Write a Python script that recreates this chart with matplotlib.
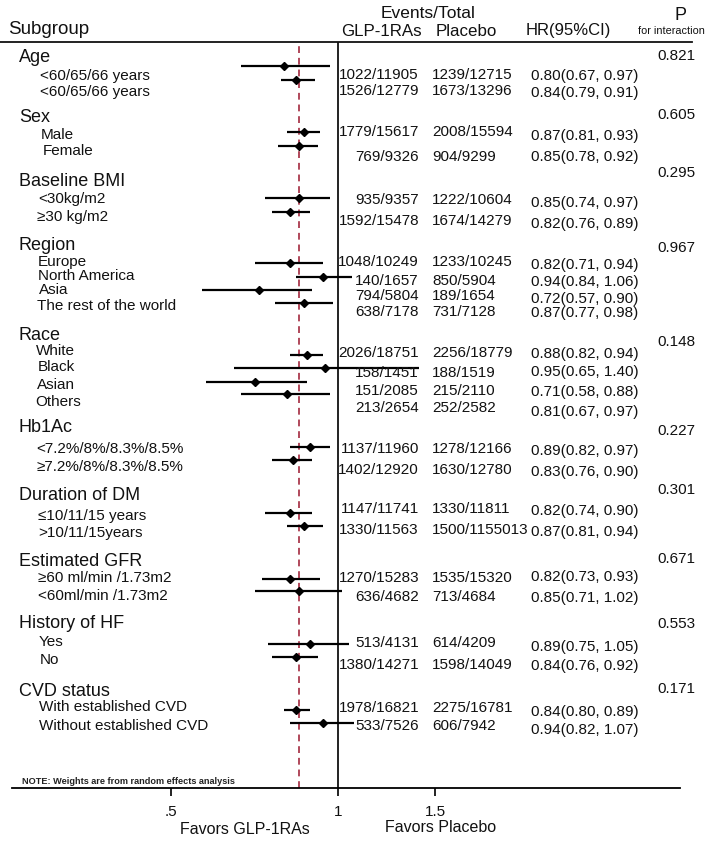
import numpy as np
import matplotlib
matplotlib.use("Agg")
import matplotlib.pyplot as plt
from matplotlib.ticker import NullLocator, FixedLocator

plt.rcParams['font.family'] = ['Liberation Sans', 'DejaVu Sans']

# data
groups = ["Age", "Sex", "Baseline BMI", "Region", "Race", "Hb1Ac",
          "Duration of DM", "Estimated GFR", "History of HF", "CVD status"]
p_inter = ["0.821", "0.605", "0.295", "0.967", "0.148", "0.227",
           "0.301", "0.671", "0.553", "0.171"]

subgroups = ["<60/65/66 years", "<60/65/66 years",
             "Male", "Female",
             "<30kg/m2", "\u226530 kg/m2",
             "Europe", "North America", "Asia", "The rest of the world",
             "White", "Black", "Asian", "Others",
             "<7.2%/8%/8.3%/8.5%", "\u22657.2%/8%/8.3%/8.5%",
             "\u226410/11/15 years", ">10/11/15years",
             "\u226560 ml/min /1.73m2", "<60ml/min /1.73m2",
             "Yes", "No",
             "With established CVD", "Without established CVD"]

glp = ["1022/11905", "1526/12779", "1779/15617", "769/9326", "935/9357",
       "1592/15478", "1048/10249", "140/1657", "794/5804", "638/7178",
       "2026/18751", "158/1451", "151/2085", "213/2654", "1137/11960",
       "1402/12920", "1147/11741", "1330/11563", "1270/15283", "636/4682",
       "513/4131", "1380/14271", "1978/16821", "533/7526"]
placebo = ["1239/12715", "1673/13296", "2008/15594", "904/9299", "1222/10604",
           "1674/14279", "1233/10245", "850/5904", "189/1654", "731/7128",
           "2256/18779", "188/1519", "215/2110", "252/2582", "1278/12166",
           "1630/12780", "1330/11811", "1500/1155013", "1535/15320", "713/4684",
           "614/4209", "1598/14049", "2275/16781", "606/7942"]

hr = [0.80, 0.84, 0.87, 0.85, 0.85, 0.82, 0.82, 0.94, 0.72, 0.87, 0.88, 0.95,
      0.71, 0.81, 0.89, 0.83, 0.82, 0.87, 0.82, 0.85, 0.89, 0.84, 0.84, 0.94]
lo = [0.67, 0.79, 0.81, 0.78, 0.74, 0.76, 0.71, 0.84, 0.57, 0.77, 0.82, 0.65,
      0.58, 0.67, 0.82, 0.76, 0.74, 0.81, 0.73, 0.71, 0.75, 0.76, 0.80, 0.82]
hi = [0.97, 0.91, 0.93, 0.92, 0.97, 0.89, 0.94, 1.06, 0.90, 0.98, 0.94, 1.40,
      0.88, 0.97, 0.97, 0.90, 0.90, 0.94, 0.93, 1.02, 1.05, 0.92, 0.89, 1.07]
overall = 0.85

xticks = [0.5, 1, 1.5]
xtick_labels = [".5", "1", "1.5"]

# layout (pixel rows, top = 0)
hdr_y = [58, 117, 181, 245, 336, 428, 496, 561, 623, 691]
p_y = [56, 115, 173, 248, 342, 431, 490, 559, 624, 689]
lab_y = [76, 92, 135, 151, 199, 217, 262, 276, 290, 306, 351, 367, 385, 402,
         449, 467, 516, 533, 578, 596, 642, 660, 707, 726]
lab_x = [40, 40, 41, 43, 38, 37, 38, 38, 39, 37, 36, 38, 37, 35,
         36, 37, 38, 38, 38, 38, 39, 40, 39, 39]
mark_y = [66, 80, 132, 146, 198, 212, 263, 277, 290, 303, 355, 368, 382, 394,
          447, 460, 513, 526, 579, 591, 644, 657, 710, 723]
num_y = [75, 91, 132, 157, 200, 221, 262, 281, 296, 312, 353, 373, 391, 408,
         449, 470, 509, 530, 578, 597, 643, 665, 708, 726]
hr_y = [76, 93, 136, 157, 203, 224, 265, 282, 299, 313, 354, 372, 392, 412,
        451, 472, 511, 532, 577, 598, 647, 666, 712, 730]

W, H = 708, 844
fig = plt.figure(figsize=(W / 100, H / 100), dpi=100)

# forest panel: log x axis, pixel rows on y
x0, x1, yb, yt = 12, 680, 788, 42
ax = fig.add_axes([x0 / W, (H - yb) / H, (x1 - x0) / W, (yb - yt) / H])
ax.patch.set_alpha(0)
ax.set_xscale('log')
px1, kpx = 337.7, 241.0
ax.set_xlim(np.exp((x0 - px1) / kpx), np.exp((x1 - px1) / kpx))
ax.set_ylim(yb, yt)
for s in ['top', 'left', 'right']:
    ax.spines[s].set_visible(False)
ax.spines['bottom'].set_linewidth(1.3)
ax.set_yticks([])
ax.xaxis.set_major_locator(FixedLocator(xticks))
ax.xaxis.set_minor_locator(NullLocator())
ax.set_xticklabels(xtick_labels, fontsize=11)
ax.tick_params(axis='x', length=6, width=1.3, pad=6, colors='#111111')

ax.axvline(1, color='#111111', lw=1.3)
ax.vlines(overall, yb, 45, colors='#b0485a', lw=1.4, linestyles=(0, (3.5, 2.5)))
ax.hlines(mark_y, lo, hi, colors='black', lw=1.6, clip_on=False)
ax.plot(hr, mark_y, 'D', color='black', ms=4.5, clip_on=False)

# text overlay in pixel coords
tx = fig.add_axes([0, 0, 1, 1])
tx.patch.set_alpha(0)
tx.set_xlim(0, W)
tx.set_ylim(H, 0)
tx.axis('off')
tx.axhline(42, xmin=0, xmax=692 / W, color='#111111', lw=1.3)

c = '#111111'
tx.text(8, 30, "Subgroup", fontsize=13.5, va='center', color=c)
tx.text(428, 14, "Events/Total", fontsize=12.5, va='center', ha='center', color=c)
tx.text(341, 31, "GLP-1RAs", fontsize=12.2, va='center', color=c)
tx.text(436, 31, "Placebo", fontsize=12.2, va='center', color=c)
tx.text(526, 31, "HR(95%CI)", fontsize=12, va='center', color=c)
tx.text(681, 15, "P", fontsize=13, va='center', ha='center', color=c)
tx.text(671, 31, "for interaction", fontsize=7.8, va='center', ha='center', color=c)

for g, p, gy, py in zip(groups, p_inter, hdr_y, p_y):
    tx.text(19, gy, g, fontsize=13, va='center', color=c)
    tx.text(657, py, p, fontsize=11, va='center', color=c)

for i in range(len(subgroups)):
    tx.text(lab_x[i], lab_y[i], subgroups[i], fontsize=11, va='center', color=c)
    tx.text(419, num_y[i], glp[i], fontsize=11, va='center', ha='right', color=c)
    tx.text(432, num_y[i], placebo[i], fontsize=11, va='center', color=c)
    tx.text(531, hr_y[i], "%.2f(%.2f, %.2f)" % (hr[i], lo[i], hi[i]),
            fontsize=11, va='center', color=c)

tx.text(22, 782, "NOTE: Weights are from random effects analysis",
        fontsize=6.6, fontweight='bold', va='center', color='#222222')
tx.text(245, 829, "Favors GLP-1RAs", fontsize=11.5, va='center', ha='center', color=c)
tx.text(441, 827, "Favors Placebo", fontsize=11.5, va='center', ha='center', color=c)

fig.savefig("out.png", dpi=100)
